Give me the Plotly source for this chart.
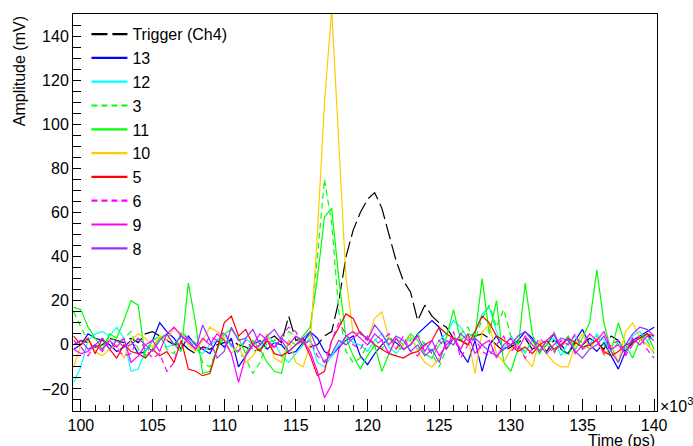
import plotly.graph_objects as go

# Time in units of 10^3 ps
time_ps_e3 = [99.5, 100.0, 100.5, 101.0, 101.5, 102.0, 102.5, 103.0, 103.5, 104.0,
              104.5, 105.0, 105.5, 106.0, 106.5, 107.0, 107.5, 108.0, 108.5, 109.0,
              109.5, 110.0, 110.5, 111.0, 111.5, 112.0, 112.5, 113.0, 113.5, 114.0,
              114.5, 115.0, 115.5, 116.0, 116.5, 117.0, 117.5, 118.0, 118.5, 119.0,
              119.5, 120.0, 120.5, 121.0, 121.5, 122.0, 122.5, 123.0, 123.5, 124.0,
              124.5, 125.0, 125.5, 126.0, 126.5, 127.0, 127.5, 128.0, 128.5, 129.0,
              129.5, 130.0, 130.5, 131.0, 131.5, 132.0, 132.5, 133.0, 133.5, 134.0,
              134.5, 135.0, 135.5, 136.0, 136.5, 137.0, 137.5, 138.0, 138.5, 139.0,
              139.5, 140.0]

trigger_ch4 = [0, 2, 1, -1, 0, 3, 2, 1, 3, 1,
               5, 6, 4, 2, 0, 1, -2, -4, -1, -2,
               0, 1, 2, 0, -1, -3, -2, 2, 4, 1,
               13, 2, 3, -1, 0, 4, 6, 20, 40, 52,
               60, 66, 69, 62, 50, 38, 29, 24, 11, 18,
               13, 10, 8, 3, 2, 0, 4, 5, 3, 0,
               -3, -1, 1, 3, -2, 0, -3, 2, 0, -4,
               1, 0, 3, 1, -2, 4, 2, -3, 1, 3,
               5, 2]

ch13 = [-2, 0, 5, 3, 2, 0, -3, -1, 2, -4,
        -3, 2, 10, 6, 3, -2, 4, 0, -2, -4,
        2, -1, 3, -10, -5, 0, 2, -2, 1, 0,
        -4, -3, 1, 6, 3, -3, -5, -1, 2, 4,
        -5, -9, -4, 0, 3, 1, -2, 0, 5, 8,
        11, 8, -2, 3, -3, -8, 2, -12, 0, 4,
        -2, 0, 2, 6, 3, -3, 0, 5, -2, -4,
        2, 7, 0, -3, 1, -5, -11, -3, 2, 4,
        6, 8]

ch12 = [-17, -10, 2, 5, 6, 4, 8, 3, -12, -11,
        -3, 2, 4, -1, 0, 5, 3, -2, -4, 0,
        2, 5, -1, -3, 3, 0, -2, 4, 1, -5,
        -8, -4, 0, 3, -8, -10, -5, 0, 4, 1,
        0, -3, 2, 5, -1, -4, 0, 3, -2, 1,
        -3, 2, 5, 11, 8, 3, 6, 14, 17, 6,
        -2, 4, 0, -4, 2, -3, 0, 3, -5, 1,
        4, -2, 0, 5, 2, -3, 1, -2, 4, 6,
        2, 4]

ch3 = [15, 8, 2, 0, -3, 4, 1, 3, 6, -2,
       -5, 2, 4, -2, -4, 6, 3, 1, -8, -10,
       -2, 3, 0, -4, -6, -13, -8, 1, 2, 3,
       6, 4, 0, 5, 40, 75, 55, 15, -3, -8,
       -6, 0, 3, -2, 4, 0, -3, 2, 5, 0,
       -4, -10, -2, 3, 5, 8, 2, 12, 18, 8,
       16, 4, 0, -3, 2, -4, 0, 6, -2, -5,
       3, 1, -2, 4, 0, -6, 2, -3, 0, 4,
       2, -4]

ch11 = [17, 16, 8, 3, -2, 5, 3, 11, 20, 18,
        -6, -2, 3, 5, 0, -3, 28, 10, -13, -12,
        -2, 5, 7, 3, -4, 2, -2, -8, -12, -13,
        2, 0, 4, 8, 30, 58, 62, 30, 3, -5,
        -11, -5, 0, -12, -4, 3, 0, 5, 2, -4,
        -6, 0, 3, 16, 2, 5, 4, 30, 5, 20,
        -8, -12, -2, 28, 5, -4, 2, -3, 0, 4,
        -2, 3, 10, 34, 10, -3, 10, 0, -6, 2,
        5, -2]

ch10 = [-10, 0, 3, -3, -5, -2, 0, -6, 2, 5,
        3, -1, 4, 2, 8, 5, 0, -3, 2, 8,
        6, 3, -4, 0, -8, -5, 0, 5, -6, -8,
        2, -8, -10, 0, 50, 110, 152, 88, 30, 5,
        6, 2, 12, 15, 3, -2, 0, 4, -3, -8,
        -10, -6, 0, 3, -2, 4, -13, 6, 9, -4,
        -8, -2, 0, -6, -10, 2, -4, -8, -10, -10,
        0, 5, -2, 3, -5, 0, -8, 6, 10, 3,
        0, -3]

ch5 = [4, 0, 3, -4, 3, -2, -6, 0, -3, -4,
       -6, -2, -5, -3, -8, 2, -11, -12, -14, -13,
       -2, 10, 13, 4, 7, 0, -3, 2, -4, -5,
       -3, 0, 2, -5, -14, -12, 2, 8, 14, 12,
       5, 3, 0, -2, -4, -5, -6, -4, -3, 0,
       2, 8, 5, 3, 2, 0, 6, 13, 10, 4,
       2, 0, -3, -1, -4, 0, 2, -2, 0, 3,
       1, -1, 0, 2, -3, -5, -3, 0, 1, 3,
       5, 4]

ch6 = [2, -1, -5, 0, -3, 2, -2, -5, -4, 3,
       -2, -6, -4, -12, -8, 5, 3, 0, -2, 4,
       2, 6, 0, -3, 2, -2, 0, 3, -2, 4,
       8, 6, 0, 2, -5, -8, 2, 10, 5, 0,
       -2, 4, 0, 2, 5, -2, 4, -3, -5, 0,
       -4, 2, -2, 6, -6, 0, 3, -3, -5, 0,
       4, -3, 0, -6, -2, 3, 0, -4, 2, 0,
       5, -2, 0, 2, -4, 0, 2, -5, 0, 4,
       -2, -6]

ch9 = [-2, -4, -3, 0, -2, 2, -1, 3, -8, -5,
       0, 2, -3, 5, 8, 4, 1, -2, 3, 0,
       5, 2, -4, -17, -5, 0, 5, 2, -1, 3,
       0, 4, 2, -3, -12, -24, -18, -2, 4, 6,
       3, 0, 5, 2, -4, 3, -2, 0, 4, -3,
       2, -5, 0, 3, -2, 5, -4, 0, 2, -6,
       0, 3, -2, 4, 0, -3, 2, 5, -1, 3,
       -4, 0, 5, 2, 6, -2, 0, -4, 3, 0,
       4, 2]

ch8 = [0, 2, -2, 0, 3, -2, 2, -1, 0, 3,
       0, -3, 2, 5, 0, 4, 2, -2, 9, 2,
       -6, -3, 8, 2, 3, 7, 0, 4, 7, 2,
       -3, 0, 3, 6, -2, -8, -4, 2, 0, 3,
       6, 2, 9, 5, 0, 4, 2, -3, 0, -5,
       -2, -8, 2, 0, 5, 2, 3, 0, -3, -5,
       -2, 0, 4, 6, 2, 0, -4, 0, 3, 2,
       -3, -6, -2, 0, 4, -3, -8, 0, 5, 8,
       7, 4]

series_names = ["Trigger (Ch4)", "13", "12", "3", "11", "10", "5", "6", "9", "8"]
series_values = [trigger_ch4, ch13, ch12, ch3, ch11, ch10, ch5, ch6, ch9, ch8]
series_colors = ["#000000", "#0000ff", "#00ffff", "#00ff00", "#00ff00",
                 "#ffcc00", "#ff0000", "#ff00ff", "#ff00ff", "#9933ff"]
series_dash = ["16px,5px", "solid", "solid", "6px,4px", "solid",
               "solid", "solid", "6px,4px", "solid", "solid"]

font_family = "Liberation Sans, Arial, Helvetica, sans-serif"

fig = go.Figure()
for name, vals, col, dash in zip(series_names, series_values, series_colors, series_dash):
    fig.add_trace(go.Scatter(
        x=time_ps_e3, y=vals, mode="lines", name=name,
        legendgroup=name, showlegend=False,
        line=dict(color=col, width=1.2, dash=dash),
    ))
# legend entries (thicker sample lines, as in the reference legend)
for name, col, dash in zip(series_names, series_colors, series_dash):
    fig.add_trace(go.Scatter(
        x=[None], y=[None], mode="lines", name=name,
        legendgroup=name, showlegend=True, hoverinfo="skip",
        line=dict(color=col, width=2.2, dash=dash),
    ))

fig.update_layout(
    width=693, height=446,
    margin=dict(l=73, r=36, t=14, b=33),
    paper_bgcolor="white", plot_bgcolor="white",
    font=dict(family=font_family, size=16, color="black"),
    showlegend=True,
    legend=dict(
        x=0.023, y=0.992, xanchor="left", yanchor="top",
        bgcolor="rgba(0,0,0,0)", borderwidth=0,
        font=dict(family=font_family, size=16, color="black"),
        tracegroupgap=0, itemwidth=36,
    ),
    xaxis=dict(
        range=[99.45, 140.2], showgrid=False, zeroline=False,
        showline=True, linecolor="black", linewidth=1, mirror=True,
        ticks="inside", ticklen=12, tickcolor="black", tickwidth=1,
        dtick=5, tick0=0,
        minor=dict(ticks="inside", ticklen=6, dtick=1, tick0=0, tickcolor="black", showgrid=False),
        tickfont=dict(size=16),
    ),
    yaxis=dict(
        range=[-30, 150], showgrid=False, zeroline=False,
        showline=True, linecolor="black", linewidth=1, mirror=True,
        ticks="inside", ticklen=8, tickcolor="black", tickwidth=1,
        dtick=20, tick0=0,
        minor=dict(ticks="inside", ticklen=8, dtick=5, tick0=0, tickcolor="black", showgrid=False),
        tickfont=dict(size=16),
    ),
    yaxis2=dict(
        overlaying="y", side="left", anchor="x", range=[-30, 150],
        tickmode="array", tickvals=[-20, 0, 20],
        ticks="inside", ticklen=18, tickcolor="black", tickwidth=1,
        showticklabels=False, showgrid=False, zeroline=False, showline=False,
    ),
)

fig.add_annotation(
    text="Amplitude (mV)", textangle=-90,
    xref="paper", yref="paper", x=-0.092, y=1.0,
    xanchor="center", yanchor="top", showarrow=False,
    font=dict(family=font_family, size=16, color="black"),
)
fig.add_annotation(
    text="Time (ps)",
    xref="paper", yref="paper", x=1.0, y=-0.048,
    xanchor="right", yanchor="top", showarrow=False,
    font=dict(family=font_family, size=16, color="black"),
)
fig.add_annotation(
    text="\u00d710<sup>3</sup>",
    xref="paper", yref="paper", x=1.002, y=0.015,
    xanchor="left", yanchor="middle", showarrow=False,
    font=dict(family=font_family, size=16, color="black"),
)

fig.write_html("out.html")
